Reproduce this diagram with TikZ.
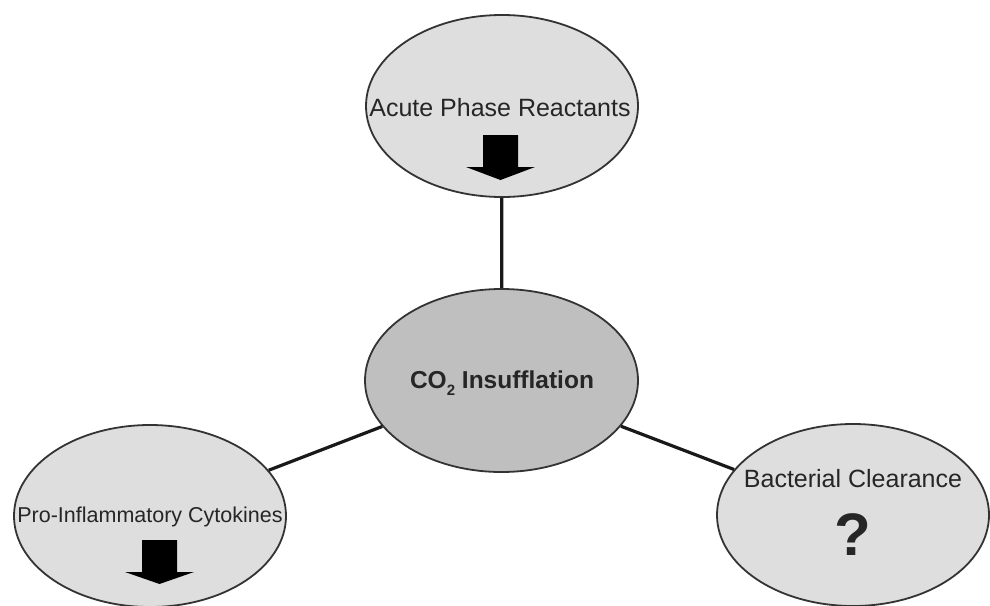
\documentclass[tikz,border=0pt]{standalone}
\usepackage{fontspec}
\setmainfont{Liberation Sans}
\usetikzlibrary{shapes.geometric}
\definecolor{bubble}{gray}{0.87}
\definecolor{hub}{gray}{0.75}
\definecolor{rim}{gray}{0.2}
\newcommand{\lowtwo}{\raisebox{-0.28em}{\fontsize{15}{15}\selectfont 2}}
\begin{document}
\begin{tikzpicture}[x=1pt,y=-1pt,
    effect/.style={ellipse,draw=rim,line width=1.8pt,fill=bubble,minimum width=272pt,minimum height=182pt,inner sep=0pt},
    centre/.style={effect,fill=hub,minimum width=273pt,minimum height=183pt},
    label/.style={inner sep=0pt,text=black!85},
    link/.style={line width=3.2pt,black!90}]
  \useasboundingbox (0,0) rectangle (990,605);
  % the four ellipses
  \node[effect] (acute) at (502,106) {};
  \node[centre] (co2) at (501.5,380.5) {};
  \node[effect] (cyto) at (150,516) {};
  \node[effect] (bact) at (853,515) {};
  % connectors
  \draw[link] (acute) -- (co2);
  \draw[link] (co2) -- (cyto);
  \draw[link] (co2) -- (bact);
  % texts
  \node[label,font=\fontsize{25}{25}\selectfont] (acutetxt) at (500,108) {Acute Phase Reactants};
  \node[label,font=\fontsize{21.5}{21.5}\selectfont] (cytotxt) at (150,517) {Pro-Inflammatory Cytokines};
  \node[label,font=\fontsize{25}{25}\selectfont] (bacttxt) at (853,479) {Bacterial Clearance};
  \node[label,font=\bfseries\fontsize{24.5}{24.5}\selectfont] (co2txt) at (502,383) {CO\lowtwo{} Insufflation};
  \node[label,font=\bfseries\fontsize{60}{60}\selectfont] (query) at (853,535) {?};
  % down arrows
  \fill[black] (483,135) -- (518,135) -- (518,167) -- (535,167) -- (500.5,180)
    -- (466,167) -- (483,167) -- cycle;
  \fill[black] (142,540) -- (177,540) -- (177,572) -- (194,572) -- (159.5,584)
    -- (125,572) -- (142,572) -- cycle;
\end{tikzpicture}
\end{document}
